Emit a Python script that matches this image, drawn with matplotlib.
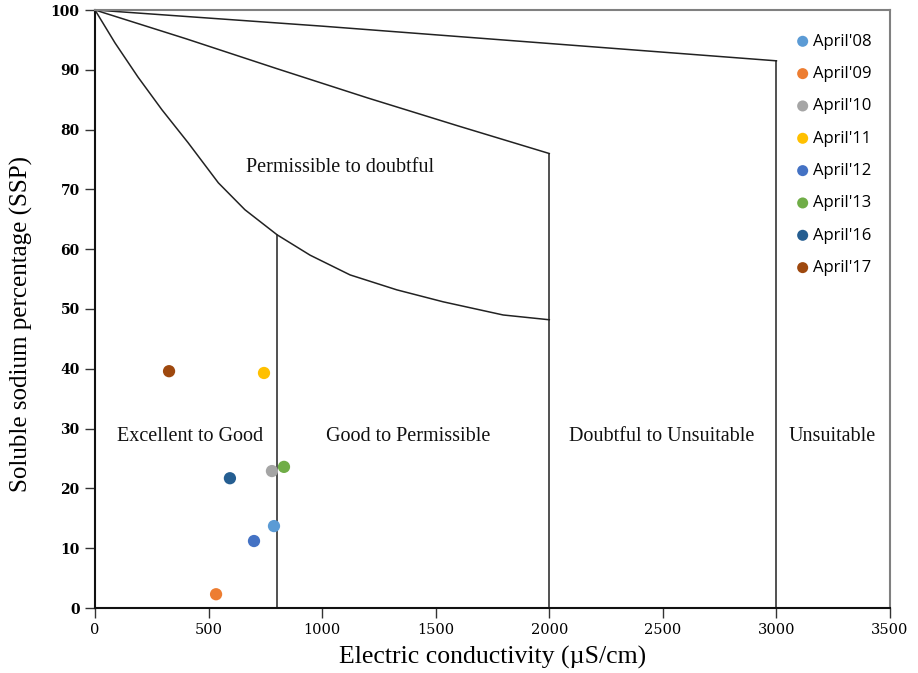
import matplotlib
matplotlib.use("Agg")
import matplotlib.pyplot as plt

# Boundary curves (EC, SSP)
curve_unsuit_x = [0, 1000, 2000, 3000]
curve_unsuit_y = [100, 97.3, 94.4, 91.5]
curve_doubt_x = [0, 400, 800, 1200, 1600, 2000]
curve_doubt_y = [100, 95.2, 90.2, 85.3, 80.6, 76]
curve_perm_x = [0, 88, 189, 295, 410, 543, 660, 802, 947, 1123, 1329, 1533, 1797, 2000]
curve_perm_y = [100, 94.5, 88.8, 83.3, 77.8, 71.1, 66.6, 62.4, 59.0, 55.7, 53.2, 51.2, 49.0, 48.2]

# Sample points
labels = ["April'08", "April'09", "April'10", "April'11", "April'12", "April'13", "April'16", "April'17"]
ec = [788, 533, 779, 744, 700, 832, 594, 326]
ssp = [13.7, 2.3, 22.9, 39.3, 11.2, 23.6, 21.7, 39.6]
colors = ["#5B9BD5", "#ED7D31", "#A5A5A5", "#FFC000", "#4472C4", "#70AD47", "#255E91", "#9E480E"]

region_labels = ["Permissible to doubtful", "Excellent to Good", "Good to Permissible",
                 "Doubtful to Unsuitable", "Unsuitable"]
region_x = [1079, 418, 1378, 2497, 3245]
region_y = [73.7, 28.6, 28.6, 28.6, 28.6]

xticks = [0, 500, 1000, 1500, 2000, 2500, 3000, 3500]
yticks = [0, 10, 20, 30, 40, 50, 60, 70, 80, 90, 100]

fig = plt.figure(figsize=(9.18, 6.73), dpi=100)
ax = fig.add_axes([95/918, 65/673, 795/918, 598/673])

lc = "#222222"
ax.plot(curve_unsuit_x, curve_unsuit_y, color=lc, lw=1.1)
ax.plot(curve_doubt_x, curve_doubt_y, color=lc, lw=1.1)
ax.plot(curve_perm_x, curve_perm_y, color=lc, lw=1.1)
ax.plot([800, 800], [0, 62.4], color=lc, lw=1.1)
ax.plot([2000, 2000], [0, 76], color=lc, lw=1.1)
ax.plot([3000, 3000], [0, 91.5], color=lc, lw=1.1)

for x, y, c, l in zip(ec, ssp, colors, labels):
    ax.scatter(x, y, s=78, color=c, label=l, zorder=5, edgecolors='none')

serif = "Liberation Serif"
for t, x, y in zip(region_labels, region_x, region_y):
    ax.text(x, y, t, ha='center', va='center', fontsize=14.5, family=serif, color="#111111")

ax.set_xlim(0, 3500)
ax.set_ylim(0, 100)
ax.set_xticks(xticks)
ax.set_yticks(yticks)
ax.set_xticklabels([str(v) for v in xticks], family="DejaVu Serif", fontsize=10.5)
ax.set_yticklabels([str(v) for v in yticks], family="DejaVu Serif", fontsize=10, fontweight='bold')
ax.tick_params(direction='out', length=7, width=1, color="#333333", pad=4)
ax.set_xlabel("Electric conductivity (µS/cm)", family=serif, fontsize=18.5, labelpad=6)
ax.set_ylabel("Soluble sodium percentage (SSP)", family=serif, fontsize=18)
ax.yaxis.set_label_coords(-0.078, 0.475)

for s in ['left', 'bottom']:
    ax.spines[s].set_color("#111111")
    ax.spines[s].set_linewidth(1.5)
for s in ['top', 'right']:
    ax.spines[s].set_color("#808080")
    ax.spines[s].set_linewidth(1.5)

leg = ax.legend(loc='upper left', bbox_to_anchor=(786/918, 1 - 27/673),
                bbox_transform=fig.transFigure, frameon=False,
                prop={'family': 'Open Sans', 'size': 12}, handletextpad=0.02,
                labelspacing=0.98, handlelength=1.2, borderaxespad=0, markerscale=0.9)

fig.savefig("out.png", dpi=100)
